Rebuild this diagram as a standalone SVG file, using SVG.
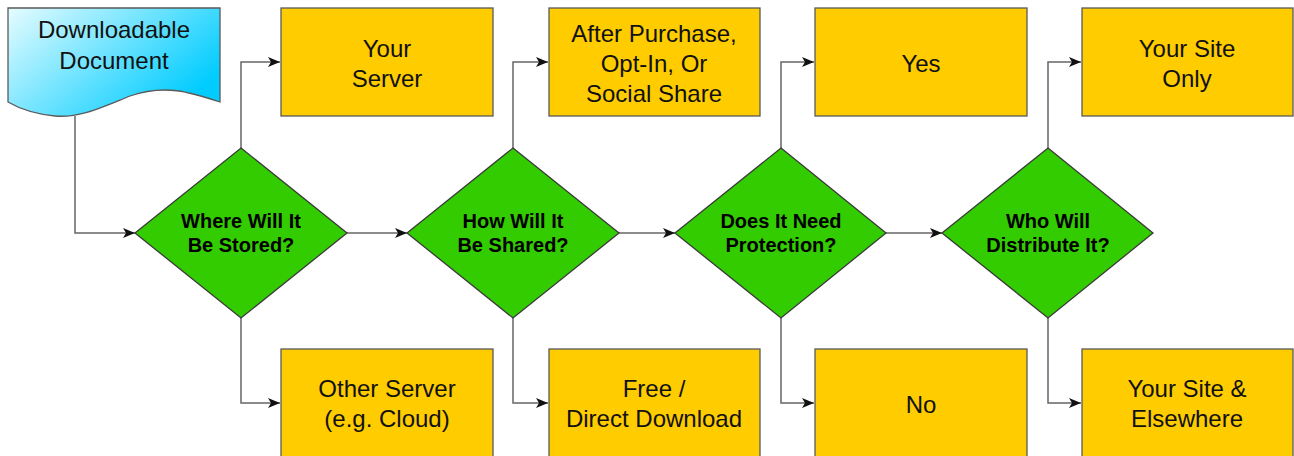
<svg xmlns="http://www.w3.org/2000/svg" width="1294" height="456" viewBox="0 0 1294 456">
<style>
.box{fill:#FFCC00;stroke:#5a5a5a;stroke-width:1.3}
.dia{fill:#33CC00;stroke:#3a3a3a;stroke-width:1.3}
.doc{fill:url(#docg);stroke:#5a5a5a;stroke-width:1.3}
.t{font-family:"Liberation Sans",Arial,sans-serif;font-size:24px;fill:#111;text-anchor:middle}
.b{font-family:"Liberation Sans",Arial,sans-serif;font-size:20px;font-weight:bold;fill:#000;text-anchor:middle}
.c{fill:none;stroke:#666;stroke-width:1.5;marker-end:url(#ah)}
</style>
<defs>
<linearGradient id="docg" x1="0" y1="0" x2="1" y2="0.6">
<stop offset="0" stop-color="#E6FCFF"/>
<stop offset="1" stop-color="#00CCFF"/>
</linearGradient>
<marker id="ah" viewBox="0 0 12 10" refX="12" refY="5" markerWidth="12" markerHeight="10" markerUnits="userSpaceOnUse" orient="auto">
<path d="M0,0 L12,5 L0,10 L3,5 Z" fill="#111"/>
</marker>
</defs>
<rect width="1294" height="456" fill="#fff"/>
<g id="connectors">
<path class="c" d="M75,116 V233 H135"/>
<path class="c" d="M241,148 V62 H280"/>
<path class="c" d="M241,318 V403 H280"/>
<path class="c" d="M347,233 H407"/>
<path class="c" d="M513,148 V62 H548"/>
<path class="c" d="M513,318 V403 H548"/>
<path class="c" d="M619,233 H675"/>
<path class="c" d="M781,148 V62 H814"/>
<path class="c" d="M781,318 V403 H814"/>
<path class="c" d="M886,233 H942"/>
<path class="c" d="M1048,148 V62 H1081"/>
<path class="c" d="M1048,318 V403 H1081"/>
</g>
<g id="doc">
<path class="doc" d="M8,8 H220 V102 C190,92 165,84 130,96 C100,108 80,118 55,116 C35,114 20,109 8,102 Z"/>
<text class="t" x="114" y="38">Downloadable</text>
<text class="t" x="114" y="69">Document</text>
</g>
<g id="d1">
<polygon class="dia" points="241,148 347,233 241,318 135,233"/>
<text class="b" x="241" y="228">Where Will It</text>
<text class="b" x="241" y="252">Be Stored?</text>
</g>
<g id="d2">
<polygon class="dia" points="513,148 619,233 513,318 407,233"/>
<text class="b" x="513" y="228">How Will It</text>
<text class="b" x="513" y="252">Be Shared?</text>
</g>
<g id="d3">
<polygon class="dia" points="781,148 886,233 781,318 675,233"/>
<text class="b" x="781" y="228">Does It Need</text>
<text class="b" x="781" y="252">Protection?</text>
</g>
<g id="d4">
<polygon class="dia" points="1048,148 1153,233 1048,318 942,233"/>
<text class="b" x="1048" y="228">Who Will</text>
<text class="b" x="1048" y="252">Distribute It?</text>
</g>
<g id="b1">
<rect class="box" x="281" y="8" width="212" height="108"/>
<text class="t" x="387" y="57">Your</text>
<text class="t" x="387" y="87">Server</text>
</g>
<g id="b2">
<rect class="box" x="549" y="8" width="211" height="108"/>
<text class="t" x="654" y="42">After Purchase,</text>
<text class="t" x="654" y="72">Opt-In, Or</text>
<text class="t" x="654" y="102">Social Share</text>
</g>
<g id="b3">
<rect class="box" x="815" y="8" width="212" height="108"/>
<text class="t" x="921" y="72">Yes</text>
</g>
<g id="b4">
<rect class="box" x="1082" y="8" width="211" height="108"/>
<text class="t" x="1187" y="57">Your Site</text>
<text class="t" x="1187" y="87">Only</text>
</g>
<g id="b5">
<rect class="box" x="281" y="349" width="212" height="110"/>
<text class="t" x="387" y="397">Other Server</text>
<text class="t" x="387" y="427">(e.g. Cloud)</text>
</g>
<g id="b6">
<rect class="box" x="549" y="349" width="211" height="110"/>
<text class="t" x="654" y="397">Free /</text>
<text class="t" x="654" y="427">Direct Download</text>
</g>
<g id="b7">
<rect class="box" x="815" y="349" width="212" height="110"/>
<text class="t" x="921" y="413">No</text>
</g>
<g id="b8">
<rect class="box" x="1082" y="349" width="211" height="110"/>
<text class="t" x="1187" y="397">Your Site &amp;</text>
<text class="t" x="1187" y="427">Elsewhere</text>
</g>
</svg>
